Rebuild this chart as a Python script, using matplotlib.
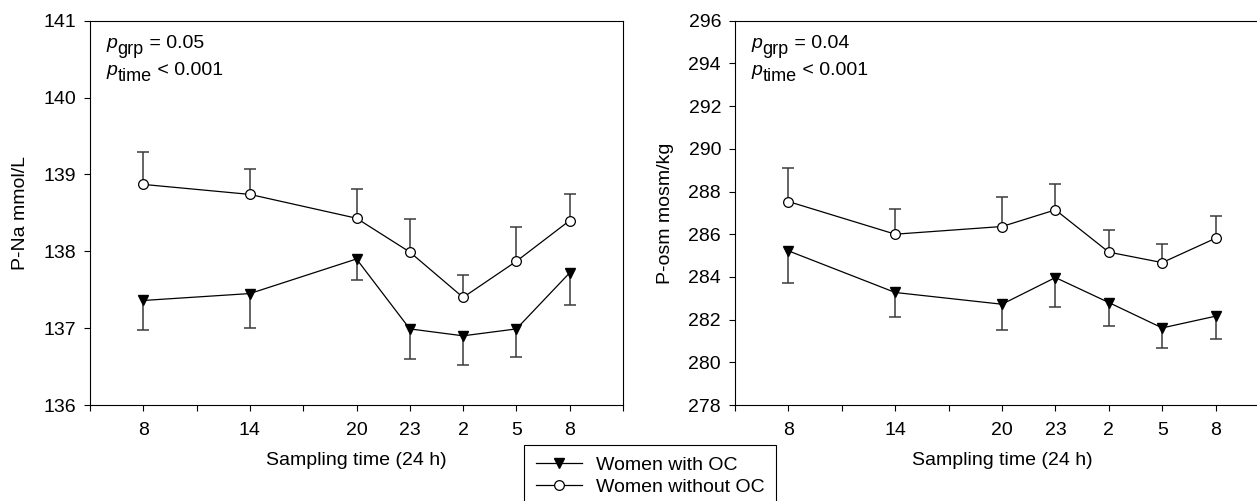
import matplotlib
matplotlib.use("Agg")
import matplotlib.pyplot as plt

# sampling clock hours, counted on from the first 8 o'clock sample
hours = [8, 14, 20, 23, 26, 29, 32]
hour_labels = ["8", "14", "20", "23", "2", "5", "8"]

# plasma sodium (mmol/L), mean and one-sided error
na_oc = [137.36, 137.45, 137.90, 136.99, 136.90, 136.99, 137.72]
na_oc_err = [0.38, 0.45, 0.27, 0.39, 0.38, 0.37, 0.42]
na_no_oc = [138.87, 138.74, 138.43, 137.99, 137.40, 137.87, 138.40]
na_no_oc_err = [0.42, 0.33, 0.38, 0.43, 0.29, 0.44, 0.35]

# plasma osmolality (mosm/kg)
osm_oc = [285.22, 283.27, 282.72, 283.97, 282.80, 281.61, 282.16]
osm_oc_err = [1.50, 1.16, 1.19, 1.38, 1.11, 0.94, 1.07]
osm_no_oc = [287.53, 286.00, 286.36, 287.14, 285.16, 284.67, 285.81]
osm_no_oc_err = [1.58, 1.20, 1.36, 1.22, 1.06, 0.89, 1.04]

group_names = ["Women with OC", "Women without OC"]

plt.rcParams["font.family"] = ["Liberation Sans", "DejaVu Sans"]
plt.rcParams["font.size"] = 14

W, H = 1257, 501
fig = plt.figure(figsize=(W / 100, H / 100), dpi=100)


def p_label(ax, x, y, sub, rest):
    # italic p, near full size subscript, then the value back on the baseline
    t1 = ax.text(x, y, "p", style="italic", transform=ax.transAxes, va="baseline")
    t2 = ax.annotate(sub, xy=(1, 0), xycoords=t1, xytext=(0.5, -4.5),
                     textcoords="offset points", va="bottom", fontsize=13)
    ax.annotate(rest, xy=(1, 0), xycoords=t2, xytext=(0, 4.5),
                textcoords="offset points", va="bottom")


def draw_panel(ax, oc, oc_err, no_oc, no_oc_err, ylim, ystep, ylabel, p_grp):
    err_col = "#3a3a3a"
    # 1. one-sided error bars: down for OC, up for no OC
    oc_low = [v - e for v, e in zip(oc, oc_err)]
    no_high = [v + e for v, e in zip(no_oc, no_oc_err)]
    ax.vlines(hours, oc_low, oc, color=err_col, lw=1.1, zorder=1)
    ax.vlines(hours, no_oc, no_high, color=err_col, lw=1.1, zorder=1)
    ax.plot(hours, oc_low, ls="none", marker="_", ms=9, mew=1.1, color=err_col, zorder=1)
    ax.plot(hours, no_high, ls="none", marker="_", ms=9, mew=1.1, color=err_col, zorder=1)

    # 2. the means
    l_oc, = ax.plot(hours, oc, color="black", lw=0.9, marker="v", ms=7.5,
                    mfc="black", mec="black", zorder=3)
    l_no, = ax.plot(hours, no_oc, color="black", lw=0.9, marker="o", ms=7,
                    mfc="white", mec="black", mew=0.9, zorder=3)

    # 3. axes
    ax.set_xlim(5, 35)
    ax.set_ylim(*ylim)
    ticks = list(range(5, 36, 3))
    ax.set_xticks(ticks)
    ax.set_xticklabels([hour_labels[hours.index(t)] if t in hours else "" for t in ticks])
    ax.set_yticks([ylim[0] + i * ystep for i in range(int((ylim[1] - ylim[0]) / ystep) + 1)])
    ax.tick_params(direction="out", length=4, width=0.8)
    ax.tick_params(axis="x", pad=8)
    ax.tick_params(axis="y", pad=6)
    for s in ax.spines.values():
        s.set_linewidth(0.8)

    ax.set_xlabel("Sampling time (24 h)")
    ax.xaxis.set_label_coords(0.5, -0.122)
    ax.set_ylabel(ylabel)
    ax.yaxis.label.set_va("center")
    ax.yaxis.set_label_coords(-0.131, 0.5)

    p_label(ax, 0.03, 0.929, "grp", " = " + p_grp)
    p_label(ax, 0.03, 0.859, "time", " < 0.001")
    return l_oc, l_no


ax1 = fig.add_axes([90 / W, 1 - 405 / H, 533 / W, 384.3 / H])
ax2 = fig.add_axes([735 / W, 1 - 405 / H, 534 / W, 384.3 / H])

l_oc, l_no = draw_panel(ax1, na_oc, na_oc_err, na_no_oc, na_no_oc_err,
                        (136, 141), 1, "P-Na mmol/L", "0.05")
draw_panel(ax2, osm_oc, osm_oc_err, osm_no_oc, osm_no_oc_err,
           (278, 296), 2, "P-osm mosm/kg", "0.04")

leg = fig.legend([l_oc, l_no], group_names, loc="upper left",
                 bbox_to_anchor=(524 / W, 1 - 445 / H), borderaxespad=0,
                 frameon=True, fancybox=False, edgecolor="black", framealpha=1,
                 borderpad=0.6, handlelength=2.4, handletextpad=0.7,
                 labelspacing=0.2)
leg.get_frame().set_linewidth(0.8)

plt.savefig("out.png", dpi=100)
